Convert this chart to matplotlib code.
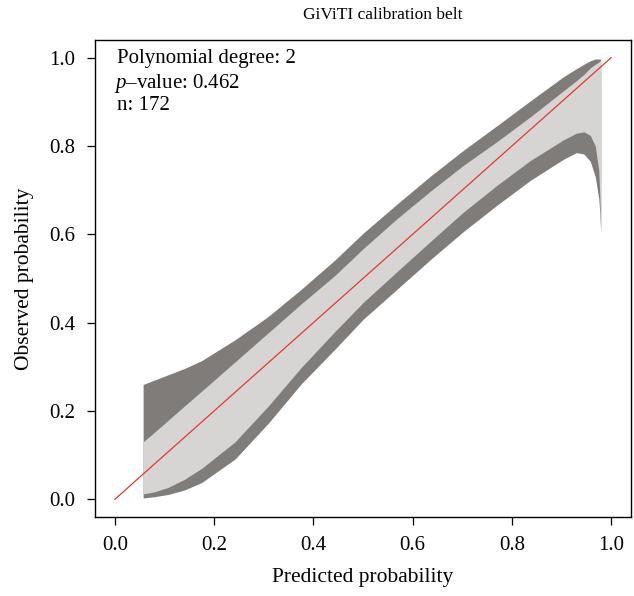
import matplotlib
matplotlib.use("Agg")
import matplotlib.pyplot as plt

plt.rcParams['font.family'] = ['Liberation Serif', 'DejaVu Serif']
plt.rcParams['mathtext.fontset'] = 'custom'
plt.rcParams['mathtext.it'] = 'Liberation Serif:italic'
plt.rcParams['mathtext.rm'] = 'Liberation Serif'

# belt: predicted probability and the four belt edges
pred = [0.057, 0.08, 0.1075, 0.14, 0.175, 0.242, 0.309, 0.376, 0.4435, 0.5007,
        0.568, 0.635, 0.702, 0.770, 0.837, 0.904, 0.93, 0.945, 0.958, 0.968,
        0.975, 0.977, 0.979]
outer_hi = [0.260, 0.270, 0.282, 0.296, 0.314, 0.361, 0.414, 0.476, 0.542, 0.603,
            0.668, 0.731, 0.790, 0.846, 0.902, 0.957, 0.975, 0.985, 0.993, 0.997,
            0.997, 0.997, 0.996]
inner_hi = [0.130, 0.152, 0.179, 0.211, 0.245, 0.311, 0.377, 0.443, 0.507, 0.568,
            0.635, 0.697, 0.756, 0.810, 0.866, 0.925, 0.948, 0.962, 0.977, 0.985,
            0.990, 0.992, 0.994]
inner_lo = [0.012, 0.017, 0.027, 0.045, 0.070, 0.130, 0.211, 0.299, 0.380, 0.446,
            0.515, 0.583, 0.650, 0.711, 0.767, 0.814, 0.829, 0.832, 0.824, 0.800,
            0.745, 0.690, 0.605]
outer_lo = [0.003, 0.006, 0.011, 0.021, 0.038, 0.091, 0.172, 0.262, 0.340, 0.408,
            0.475, 0.542, 0.606, 0.666, 0.722, 0.770, 0.785, 0.782, 0.765, 0.730,
            0.681, 0.650, 0.605]
diag = [0.0, 1.0]

ticks = [0.0, 0.2, 0.4, 0.6, 0.8, 1.0]
tick_labels = ['0.0', '0.2', '0.4', '0.6', '0.8', '1.0']

fig = plt.figure(figsize=(6.34, 5.96), dpi=100)
ax = fig.add_axes([0.1498, 0.1326, 0.8455, 0.8003])

ax.fill_between(pred, outer_lo, outer_hi, color='#7f7c7a', lw=0)
ax.fill_between(pred, inner_lo, inner_hi, color='#d6d5d4', lw=0)
ax.plot(diag, diag, color='#e23a2a', lw=0.9)

ax.set_xlim(-0.04, 1.04)
ax.set_ylim(-0.04, 1.04)
ax.set_xticks(ticks)
ax.set_xticklabels(tick_labels)
ax.set_yticks(ticks)
ax.set_yticklabels(tick_labels)
ax.tick_params(direction='out', length=6, width=0.9, labelsize=15, pad=8)
for s in ax.spines.values():
    s.set_linewidth(1.0)

ax.set_title('GiViTI calibration belt', fontsize=12.5, pad=15, x=0.537)
ax.set_xlabel('Predicted probability', fontsize=15.5, labelpad=9)
ax.set_ylabel('Observed probability', fontsize=15.5, labelpad=11)

ax.text(0.041, 0.982, 'Polynomial degree: 2', transform=ax.transAxes,
        fontsize=15, va='top', ha='left')
ax.text(0.036, 0.932, r'$p$–value: 0.462', transform=ax.transAxes,
        fontsize=15, va='top', ha='left')
ax.text(0.041, 0.883, 'n: 172', transform=ax.transAxes,
        fontsize=15, va='top', ha='left')

fig.savefig('out.png', dpi=100)
